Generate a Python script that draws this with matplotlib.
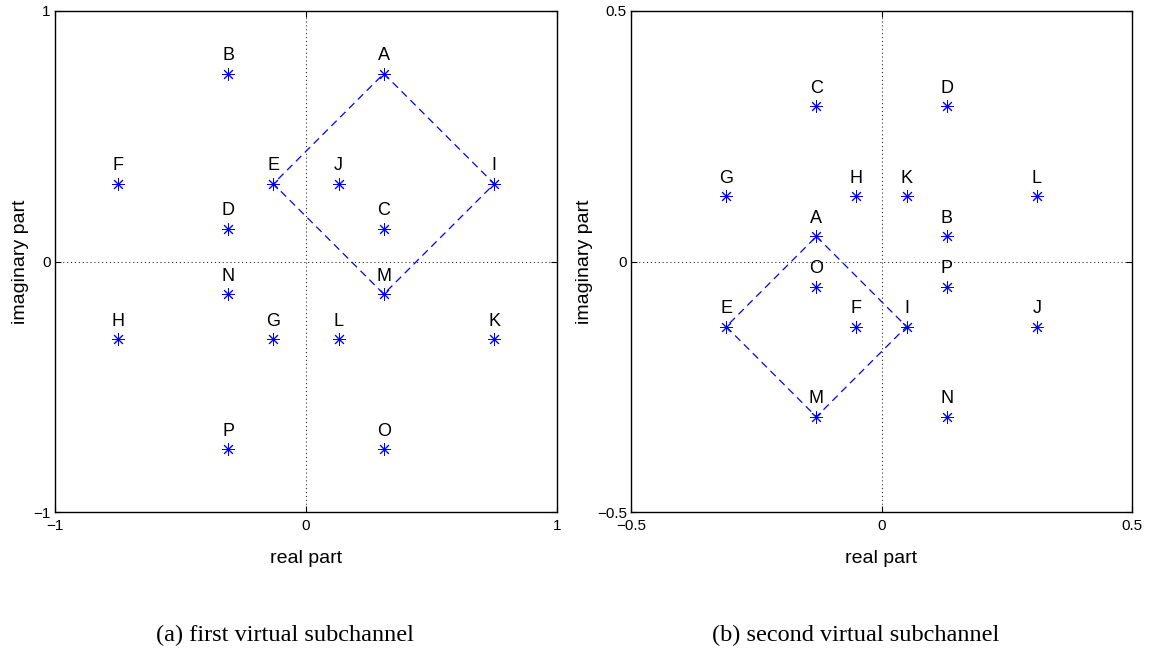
import matplotlib
matplotlib.use("Agg")
import matplotlib.pyplot as plt

plt.rcParams["font.family"] = ["Liberation Sans", "DejaVu Sans"]

# constellation points of the two virtual subchannels
names = list("ABCDEFGHIJKLMNOP")

re_a = [0.31, -0.31, 0.31, -0.31, -0.13, -0.75, -0.13, -0.75,
        0.75, 0.13, 0.75, 0.13, 0.31, -0.31, 0.31, -0.31]
im_a = [0.75, 0.75, 0.13, 0.13, 0.31, 0.31, -0.31, -0.31,
        0.31, 0.31, -0.31, -0.31, -0.13, -0.13, -0.75, -0.75]

re_b = [-0.13, 0.13, -0.13, 0.13, -0.31, -0.05, -0.31, -0.05,
        0.05, 0.31, 0.05, 0.31, -0.13, 0.13, -0.13, 0.13]
im_b = [0.05, 0.05, 0.31, 0.31, -0.13, -0.13, 0.13, 0.13,
        -0.13, -0.13, 0.13, 0.13, -0.31, -0.31, -0.05, -0.05]

# diamond drawn through these symbols
diamond = ["A", "I", "M", "E", "A"]

limits = [1, 0.5]
ticks = [[-1, 0, 1], [-0.5, 0, 0.5]]
tick_labels = [["\u22121", "0", "1"], ["\u22120.5", "0", "0.5"]]
captions = ["(a) first virtual subchannel", "(b) second virtual subchannel"]

W, H = 1152, 654
fig = plt.figure(figsize=(W / 100, H / 100), dpi=100)

boxes = [(55, 11, 502, 501), (631, 11, 501, 501)]
caption_x = [285, 856]
data = [(re_a, im_a), (re_b, im_b)]

for k, (box, (re, im)) in enumerate(zip(boxes, data)):
    x0, y0, w, h = box
    ax = fig.add_axes([x0 / W, (H - y0 - h) / H, w / W, h / H])
    lim = limits[k]

    ax.axhline(0, color="k", ls=(0, (1, 3)), lw=0.7)
    ax.axvline(0, color="k", ls=(0, (1, 3)), lw=0.7)

    idx = [names.index(n) for n in diamond]
    ax.plot([re[i] for i in idx], [im[i] for i in idx], color="b",
            ls=(0, (6, 4)), lw=0.9)
    ax.plot(re, im, ls="none", marker=(8, 2, 0), color="b", ms=9, mew=0.7)

    for n, x, y in zip(names, re, im):
        ax.annotate(n, (x, y), xytext=(0, 13), textcoords="offset points",
                    ha="center", va="center", fontsize=13)

    ax.set_xlim(-lim, lim)
    ax.set_ylim(-lim, lim)
    ax.set_xticks(ticks[k])
    ax.set_yticks(ticks[k])
    ax.set_xticklabels(tick_labels[k])
    ax.set_yticklabels(tick_labels[k])
    ax.tick_params(direction="in", top=True, right=True, length=4,
                   width=0.8, labelsize=11)
    ax.tick_params(axis="y", pad=3)
    ax.tick_params(axis="x", pad=5)
    for s in ax.spines.values():
        s.set_linewidth(1.0)

    ax.set_xlabel("real part", fontsize=14, labelpad=12)
    ax.set_ylabel("imaginary part", fontsize=14, labelpad=3)

    fig.text(caption_x[k] / W, 1 - 635 / H, captions[k], ha="center",
             va="center", fontsize=17.5, family=["Liberation Serif", "DejaVu Serif"])

fig.savefig("out.png", dpi=100)
